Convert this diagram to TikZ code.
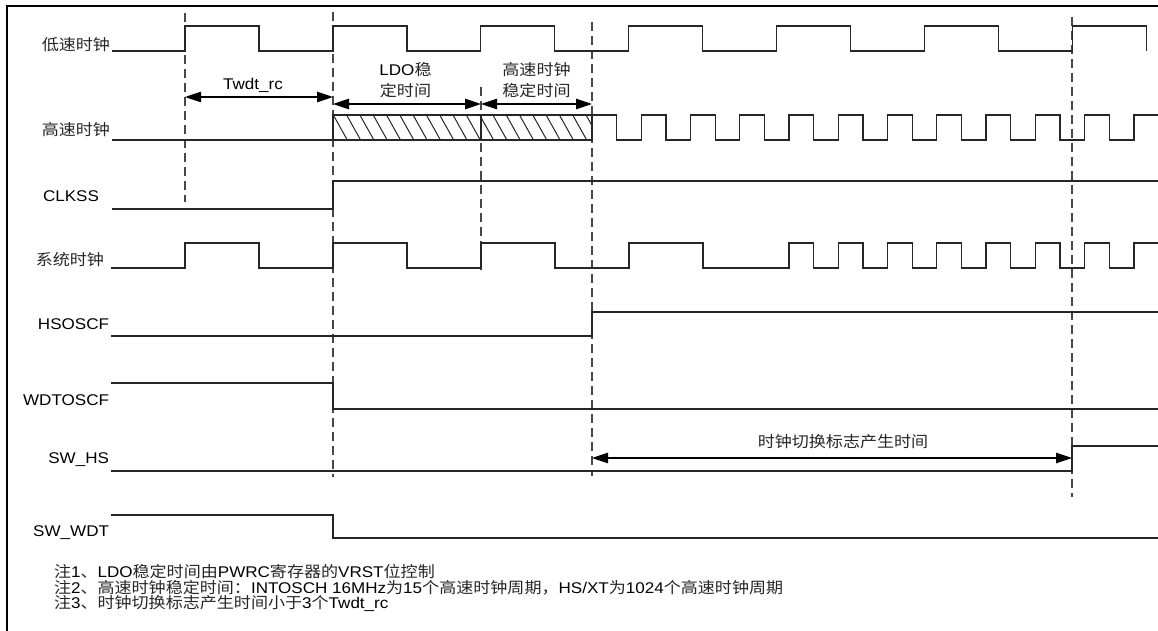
\documentclass[tikz,border=0pt]{standalone}
\usepackage{fontspec}
\setmainfont[FakeStretch=1.1]{Liberation Sans}
\newfontfamily\cjkfont[FakeStretch=1.1]{Noto Sans CJK SC}
\newcommand\zh[1]{{\cjkfont\color{black!85}#1}}
\newcommand\lblfont{\fontsize{15.5pt}{18pt}\selectfont}
\usetikzlibrary{arrows.meta}
\begin{document}
\begin{tikzpicture}[x=1pt,y=-1pt,
  wave/.style={line width=1.3pt, black!85, line join=miter},
  guide/.style={line width=1.3pt, black!72, dash pattern=on 9pt off 5pt},
  dimline/.style={line width=1.2pt, black, {Triangle[length=16pt,width=10.5pt]}-{Triangle[length=16pt,width=10.5pt]}},
  lbl/.style={inner sep=0pt, outer sep=0pt, font=\lblfont, text=black},
  hatchline/.style={line width=1pt, black!85}
]
\useasboundingbox (0,0) rectangle (1158,631);

% frame
\draw[line width=2pt] (7,631) -- (7,6.5) -- (1158,6.5);

% dashed guides
\draw[guide] (185,13) -- (185,202);
\draw[guide] (333,12) -- (333,477);
\draw[guide] (481,87) -- (481,270);
\draw[guide] (592,22) -- (592,476);
\draw[guide] (1072,17) -- (1072,497);

% labels
\node[lbl, anchor=base east] (lLS) at (110,51) {\zh{低速时钟}};
\node[lbl, anchor=base east] (lHS) at (110,135.5) {\zh{高速时钟}};
\node[lbl, anchor=base west] (lCLKSS) at (43,201) {CLKSS};
\node[lbl, anchor=base east] (lSYS) at (104,265.5) {\zh{系统时钟}};
\node[lbl, anchor=base east] (lHSOSCF) at (109,329) {HSOSCF};
\node[lbl, anchor=base east] (lWDTOSCF) at (109,405.5) {WDTOSCF};
\node[lbl, anchor=base east] (lSWHS) at (109,463) {SW\_HS};
\node[lbl, anchor=base east] (lSWWDT) at (109,536.5) {SW\_WDT};

% low speed clock
\draw[wave] (112,51) foreach \k in {0,...,6} { -- ({185+147.9*\k},51) -- ({185+147.9*\k},26) -- ({259+147.9*\k},26) -- ({259+147.9*\k},51) };

% high speed clock
\begin{scope}
  \clip (333,115) rectangle (592,140);
  \foreach \i in {0,...,22} \draw[hatchline] ({320+13.3*\i},115) -- ++(14,25);
\end{scope}
\draw[wave] (112,140) -- (333,140) -- (333,115) -- (592,115) -- (592,140) -- cycle;
\draw[wave] (481,115) -- (481,140);
\draw[wave] (592,115) foreach \k in {1,3,...,21} { -- ({592+24.63*\k},115) -- ({592+24.63*\k},140) -- ({592+24.63*(\k+1)},140) -- ({592+24.63*(\k+1)},115) } -- (1158,115);

% CLKSS
\draw[wave] (112,209) -- (333,209) -- (333,181) -- (1158,181);

% system clock
\draw[wave] (111,268) -- (185,268) -- (185,243) -- (259,243) -- (259,268)
  -- (333,268) -- (333,243) -- (407,243) -- (407,268)
  -- (481,268) -- (481,243) -- (555,243) -- (555,268)
  -- (629,268) -- (629,243) -- (703,243) -- (703,268)
  -- (789,268) -- (789,243)
  foreach \k in {9,11,...,21} { -- ({592+24.63*\k},243) -- ({592+24.63*\k},268) -- ({592+24.63*(\k+1)},268) -- ({592+24.63*(\k+1)},243) } -- (1158,243);

% HSOSCF
\draw[wave] (111,336) -- (592,336) -- (592,312) -- (1158,312);
% WDTOSCF
\draw[wave] (111,383) -- (333,383) -- (333,409) -- (1158,409);
% SW_HS
\draw[wave] (111,471) -- (1072,471) -- (1072,446) -- (1158,446);
% SW_WDT
\draw[wave] (111,515) -- (333,515) -- (333,538) -- (1158,538);

% dimension arrows
\coordinate (a1) at (185,97);
\coordinate (a2) at (333,97);
\coordinate (b1) at (333,104);
\coordinate (b2) at (481,104);
\coordinate (c1) at (481,104);
\coordinate (c2) at (592,104);
\coordinate (d1) at (592,458);
\coordinate (d2) at (1072,458);
\draw[dimline] (a1) -- (a2);
\draw[dimline] (b1) -- (b2);
\draw[dimline] (c1) -- (c2);
\draw[dimline] (d1) -- (d2);

\node[lbl, anchor=base] (tTwdt) at (253,90) {Twdt\_rc};
\node[lbl, anchor=base] (tLDO1) at (405.5,75.5) {LDO\zh{稳}};
\node[lbl, anchor=base] (tLDO2) at (405.5,96.5) {\zh{定时间}};
\node[lbl, anchor=base] (tHS1) at (536.5,75.5) {\zh{高速时钟}};
\node[lbl, anchor=base] (tHS2) at (536.5,96.5) {\zh{稳定时间}};
\node[lbl, anchor=base] (tSW) at (843,447) {\zh{时钟切换标志产生时间}};

% notes
\node[lbl, anchor=base west] (n1) at (54,577.5) {\zh{注}1\zh{、}LDO\zh{稳定时间由}PWRC\zh{寄存器的}VRST\zh{位控制}};
\node[lbl, anchor=base west] (n2) at (54,593) {\zh{注}2\zh{、高速时钟稳定时间：}INTOSCH 16MHz\zh{为}15\zh{个高速时钟周期，}HS/XT\zh{为}1024\zh{个高速时钟周期}};
\node[lbl, anchor=base west] (n3) at (54,608.5) {\zh{注}3\zh{、时钟切换标志产生时间小于}3\zh{个}Twdt\_rc};
\end{tikzpicture}
\end{document}
